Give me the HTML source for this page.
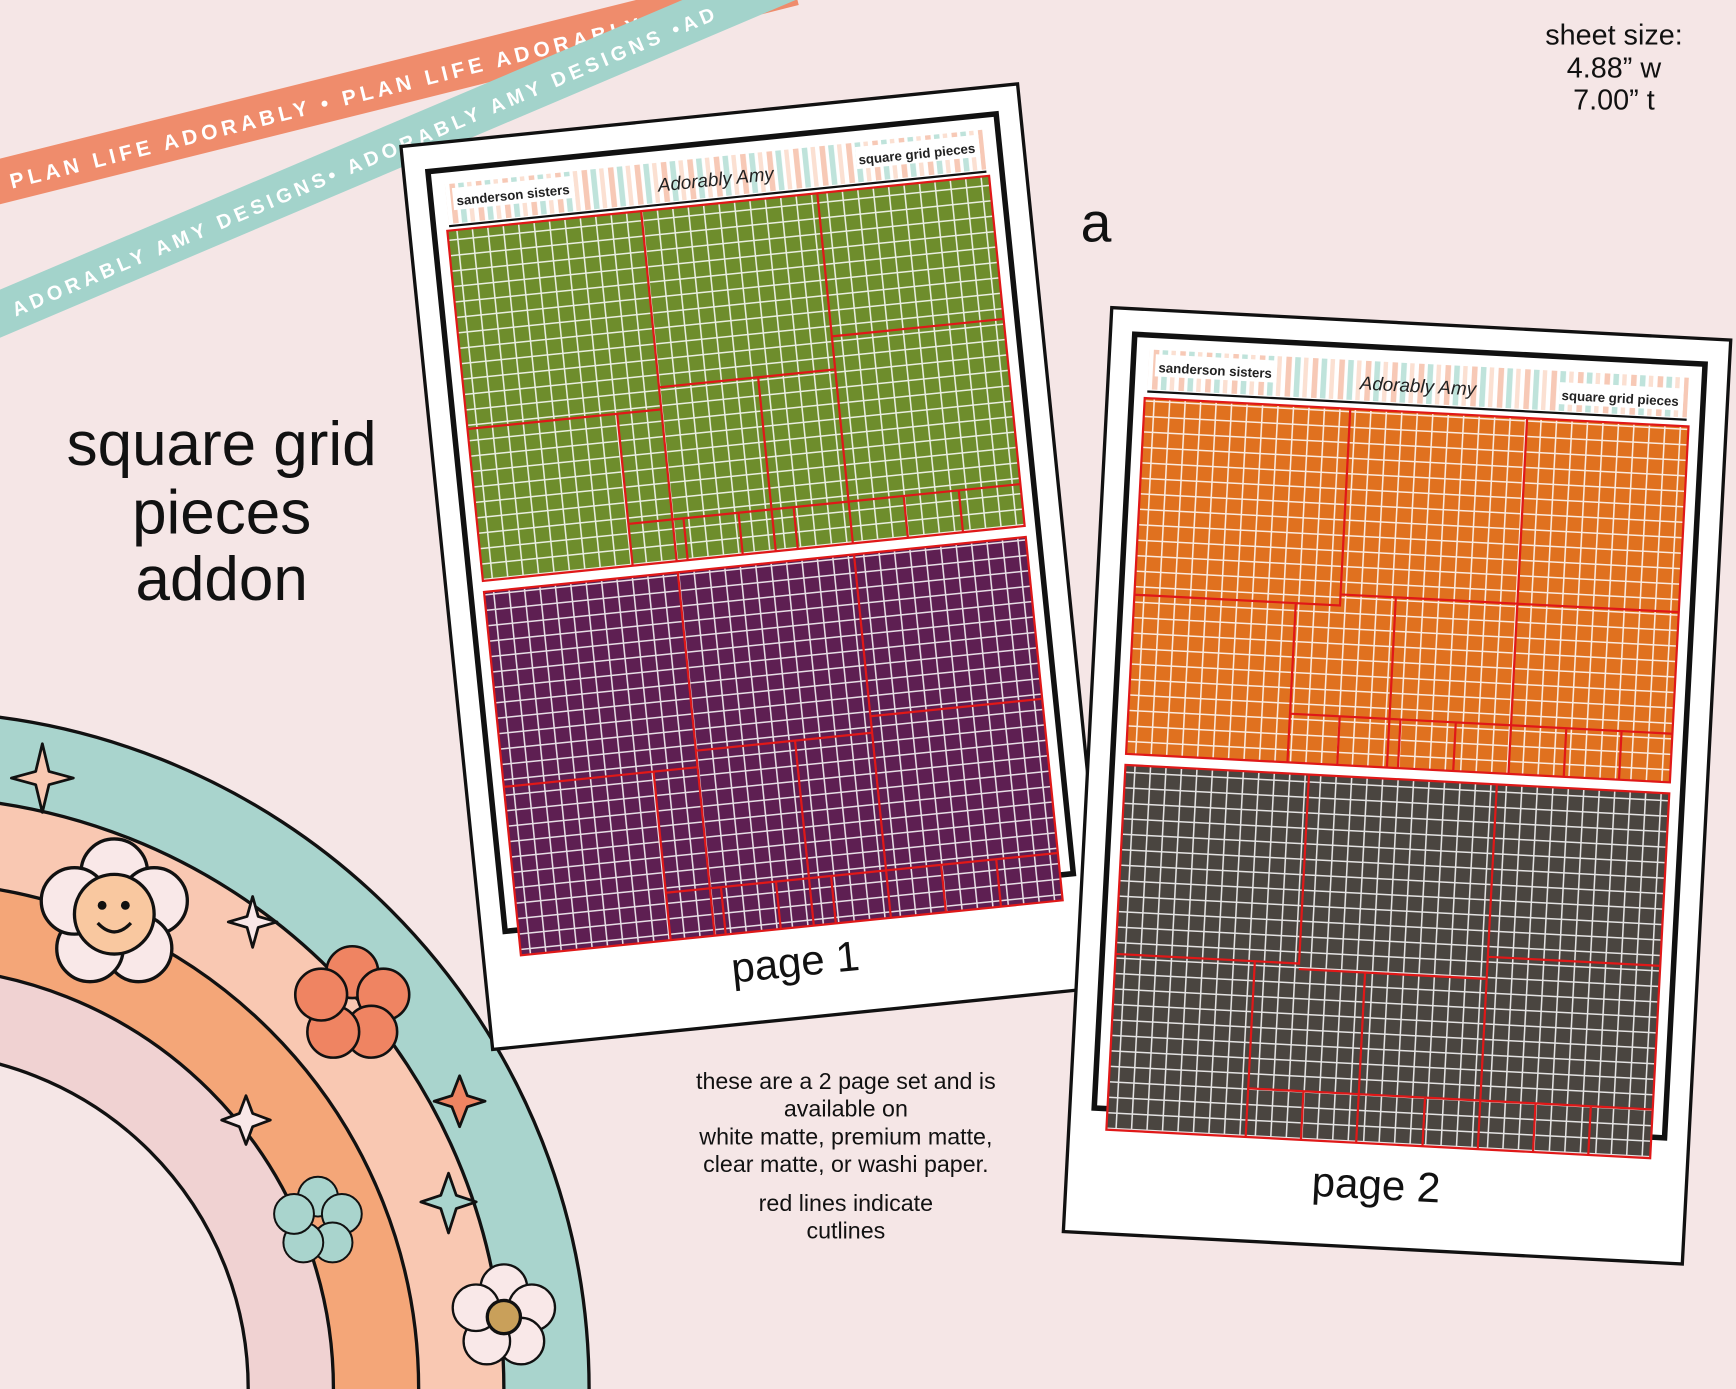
<!DOCTYPE html>
<html><head><meta charset="utf-8"><style>
html,body{margin:0;padding:0;background:#f5e6e6;overflow:hidden;width:1736px;height:1389px;}
svg{display:block}
text{font-family:"Liberation Sans",sans-serif;}
</style></head><body>
<svg width="1736" height="1389" viewBox="0 0 1568 1255" xmlns="http://www.w3.org/2000/svg">
<defs>
<pattern id="g" width="14" height="14" patternUnits="userSpaceOnUse">
<path d="M0 0.7H14M0.7 0V14" stroke="#fff" stroke-width="1.4" opacity="0.85"/>
</pattern>
<pattern id="st" width="24" height="40" patternUnits="userSpaceOnUse">
<rect width="24" height="40" fill="#fff"/>
<rect x="0" width="5" height="40" fill="#f7c9b6"/><rect x="8" width="5" height="40" fill="#bfe3db"/><rect x="16" width="4" height="40" fill="#fbe0d2"/>
</pattern>
<g id="flw">
<g stroke="#111" stroke-width="3">
<circle cx="0" cy="-38" r="30"/><circle cx="36" cy="-12" r="30"/><circle cx="22" cy="31" r="30"/><circle cx="-22" cy="31" r="30"/><circle cx="-36" cy="-12" r="30"/>
</g></g>
</defs>
<rect width="1568" height="1255" fill="#f5e6e6"/>
<!-- ribbons -->
<g transform="translate(0,170) rotate(-14)"><rect x="-20" y="-26" width="760" height="40" fill="#ef8c6c"/>
<text x="10" y="3" font-size="19" fill="#fff" letter-spacing="4" font-weight="bold">PLAN LIFE ADORABLY • PLAN LIFE ADORABLY</text></g>
<g transform="translate(0,292) rotate(-23)"><rect x="-20" y="-28" width="820" height="40" fill="#a3d3cb"/>
<text x="15" y="0" font-size="18" fill="#fff" letter-spacing="4" font-weight="bold">ADORABLY AMY DESIGNS• ADORABLY AMY DESIGNS •AD</text></g>
<!-- rainbow -->
<g stroke="#111" stroke-width="3">
<circle cx="-80" cy="1255" r="612" fill="#a9d4cd"/>
<circle cx="-80" cy="1255" r="535" fill="#f9c8b2"/>
<circle cx="-80" cy="1255" r="458" fill="#f4a678"/>
<circle cx="-80" cy="1255" r="381" fill="#f0d2d2"/>
<circle cx="-80" cy="1255" r="304" fill="#f5e6e6"/>
</g>
<use href="#flw" x="103" y="826" fill="#f9e8e8"/>
<circle cx="103" cy="826" r="36" fill="#f9c8a0" stroke="#111" stroke-width="3"/>
<circle cx="92" cy="818" r="4" fill="#111"/><circle cx="113" cy="818" r="4" fill="#111"/>
<path d="M88 834 Q103 850 118 834" fill="none" stroke="#111" stroke-width="3"/>
<g transform="translate(318,908) scale(0.78)"><use href="#flw" fill="#ef8462"/></g>
<g transform="translate(287,1104) scale(0.6)"><use href="#flw" fill="#a9d4cd"/></g>
<g transform="translate(455,1190) scale(0.7)"><use href="#flw" fill="#f9e8e8"/></g>
<circle cx="455" cy="1190" r="15" fill="#c9a05a" stroke="#111" stroke-width="3"/>
<g stroke="#111" stroke-width="2.5" stroke-linejoin="round">
<path d="M38 672 L44 697 L66 703 L44 709 L38 734 L32 709 L10 703 L32 697Z" fill="#f9c8b2"/>
<path d="M228 810 L233 828 L250 833 L233 838 L228 856 L223 838 L206 833 L223 828Z" fill="#f9e8e8"/>
<path d="M222 990 L228 1006 L244 1012 L228 1018 L222 1034 L216 1018 L200 1012 L216 1006Z" fill="#f9e8e8"/>
<path d="M415 972 L422 990 L438 995 L422 1000 L415 1018 L408 1000 L392 995 L408 990Z" fill="#ef8462"/>
<path d="M405 1060 L412 1080 L430 1086 L412 1092 L405 1114 L398 1092 L380 1086 L398 1080Z" fill="#a9d4cd"/>
</g>
<!-- titles -->
<text x="200" y="420" font-size="56" text-anchor="middle" fill="#111">square grid</text>
<text x="200" y="482" font-size="56" text-anchor="middle" fill="#111">pieces</text>
<text x="200" y="542" font-size="56" text-anchor="middle" fill="#111">addon</text>
<text x="1458" y="40" font-size="26" text-anchor="middle" fill="#111">sheet size:</text>
<text x="1458" y="70" font-size="26" text-anchor="middle" fill="#111">4.88” w</text>
<text x="1458" y="99" font-size="26" text-anchor="middle" fill="#111">7.00” t</text>
<text x="990" y="218" font-size="50" text-anchor="middle" fill="#111">a</text>
<g font-size="21" text-anchor="middle" fill="#111">
<text x="764" y="984">these are a 2 page set and is</text>
<text x="764" y="1009">available on</text>
<text x="764" y="1034">white matte, premium matte,</text>
<text x="764" y="1059">clear matte, or washi paper.</text>
<text x="764" y="1094">red lines indicate</text>
<text x="764" y="1119">cutlines</text>
</g>
<!-- page 1 -->
<g transform="translate(682,512) rotate(-5.8)">
<rect x="-280" y="-410" width="560" height="820" fill="#fff" stroke="#111" stroke-width="3"/>
<rect x="-258" y="-385" width="516" height="690" fill="#fff" stroke="#111" stroke-width="5"/>
<rect x="-244" y="-372" width="488" height="36" fill="url(#st)"/>
<line x1="-244" y1="-334" x2="244" y2="-334" stroke="#111" stroke-width="2"/>
<rect x="-238" y="-368" width="110" height="20" fill="#fff"/><text x="-235" y="-352" font-size="12" font-weight="bold" fill="#222">sanderson sisters</text>
<rect x="128" y="-368" width="112" height="20" fill="#fff"/><text x="236" y="-352" font-size="12" font-weight="bold" fill="#222" text-anchor="end">square grid pieces</text>
<text x="0" y="-346" font-size="17" font-style="italic" text-anchor="middle" fill="#222" font-family="Liberation Serif">Adorably Amy</text>
<rect x="-246" y="-330" width="492" height="318" fill="#6e8d2c"/><rect x="-246" y="-330" width="492" height="318" fill="url(#g)"/>
<rect x="-246" y="-2" width="492" height="330" fill="#5e1f52"/><rect x="-246" y="-2" width="492" height="330" fill="url(#g)"/>
<g fill="none" stroke="#e01818" stroke-width="2">
<rect x="-246" y="-330" width="492" height="318"/>
<path d="M-246 -150H-70V-330M-70 -170H90V-330M90 -200H246M-70 -150V-12M20 -170V-12M90 -200V-12M-110 -150V-12M-110 -50H246M-60 -50V-12M-10 -50V-12M40 -50V-12M140 -50V-12M190 -50V-12"/>
<rect x="-246" y="-2" width="492" height="330"/>
<path d="M-246 175H-70V-2M-70 160H90V-2M90 145H246M-70 175V328M20 160V328M90 145V328M-110 175V328M-110 285H246M-60 285V328M-10 285V328M40 285V328M140 285V328M190 285V328"/>
</g>
<text x="0" y="372" font-size="38" text-anchor="middle" fill="#111">page 1</text>
</g>
<!-- page 2 -->
<g transform="translate(1262,710) rotate(3)">
<rect x="-280" y="-418" width="560" height="836" fill="#fff" stroke="#111" stroke-width="3"/>
<rect x="-258" y="-395" width="516" height="700" fill="#fff" stroke="#111" stroke-width="5"/>
<rect x="-244" y="-382" width="488" height="36" fill="url(#st)"/>
<line x1="-244" y1="-344" x2="244" y2="-344" stroke="#111" stroke-width="2"/>
<rect x="-238" y="-378" width="110" height="20" fill="#fff"/><text x="-235" y="-362" font-size="12" font-weight="bold" fill="#222">sanderson sisters</text>
<rect x="128" y="-372" width="112" height="20" fill="#fff"/><text x="236" y="-356" font-size="12" font-weight="bold" fill="#222" text-anchor="end">square grid pieces</text>
<text x="0" y="-356" font-size="17" font-style="italic" text-anchor="middle" fill="#222" font-family="Liberation Serif">Adorably Amy</text>
<rect x="-246" y="-338" width="492" height="322" fill="#e0711f"/><rect x="-246" y="-338" width="492" height="322" fill="url(#g)"/>
<rect x="-246" y="-6" width="492" height="330" fill="#4a4540"/><rect x="-246" y="-6" width="492" height="330" fill="url(#g)"/>
<g fill="none" stroke="#e01818" stroke-width="2">
<rect x="-246" y="-338" width="492" height="322"/>
<path d="M-246 -160H-60V-338M-60 -170H100V-338M100 -170H246M-100 -160V-16M-10 -170V-16M100 -170V-16M-100 -60H246M-55 -60V-16M0 -60V-16M50 -60V-16M150 -60V-16M200 -60V-16"/>
<rect x="-246" y="-6" width="492" height="330"/>
<path d="M-246 165H-80V-6M-80 170H90V-6M90 150H246M-120 165V324M-20 170V324M90 150V324M-120 280H246M-70 280V324M-20 280V324M40 280V324M140 280V324M190 280V324"/>
</g>
<text x="0" y="374" font-size="38" text-anchor="middle" fill="#111">page 2</text>
</g>
</svg>
</body></html>
